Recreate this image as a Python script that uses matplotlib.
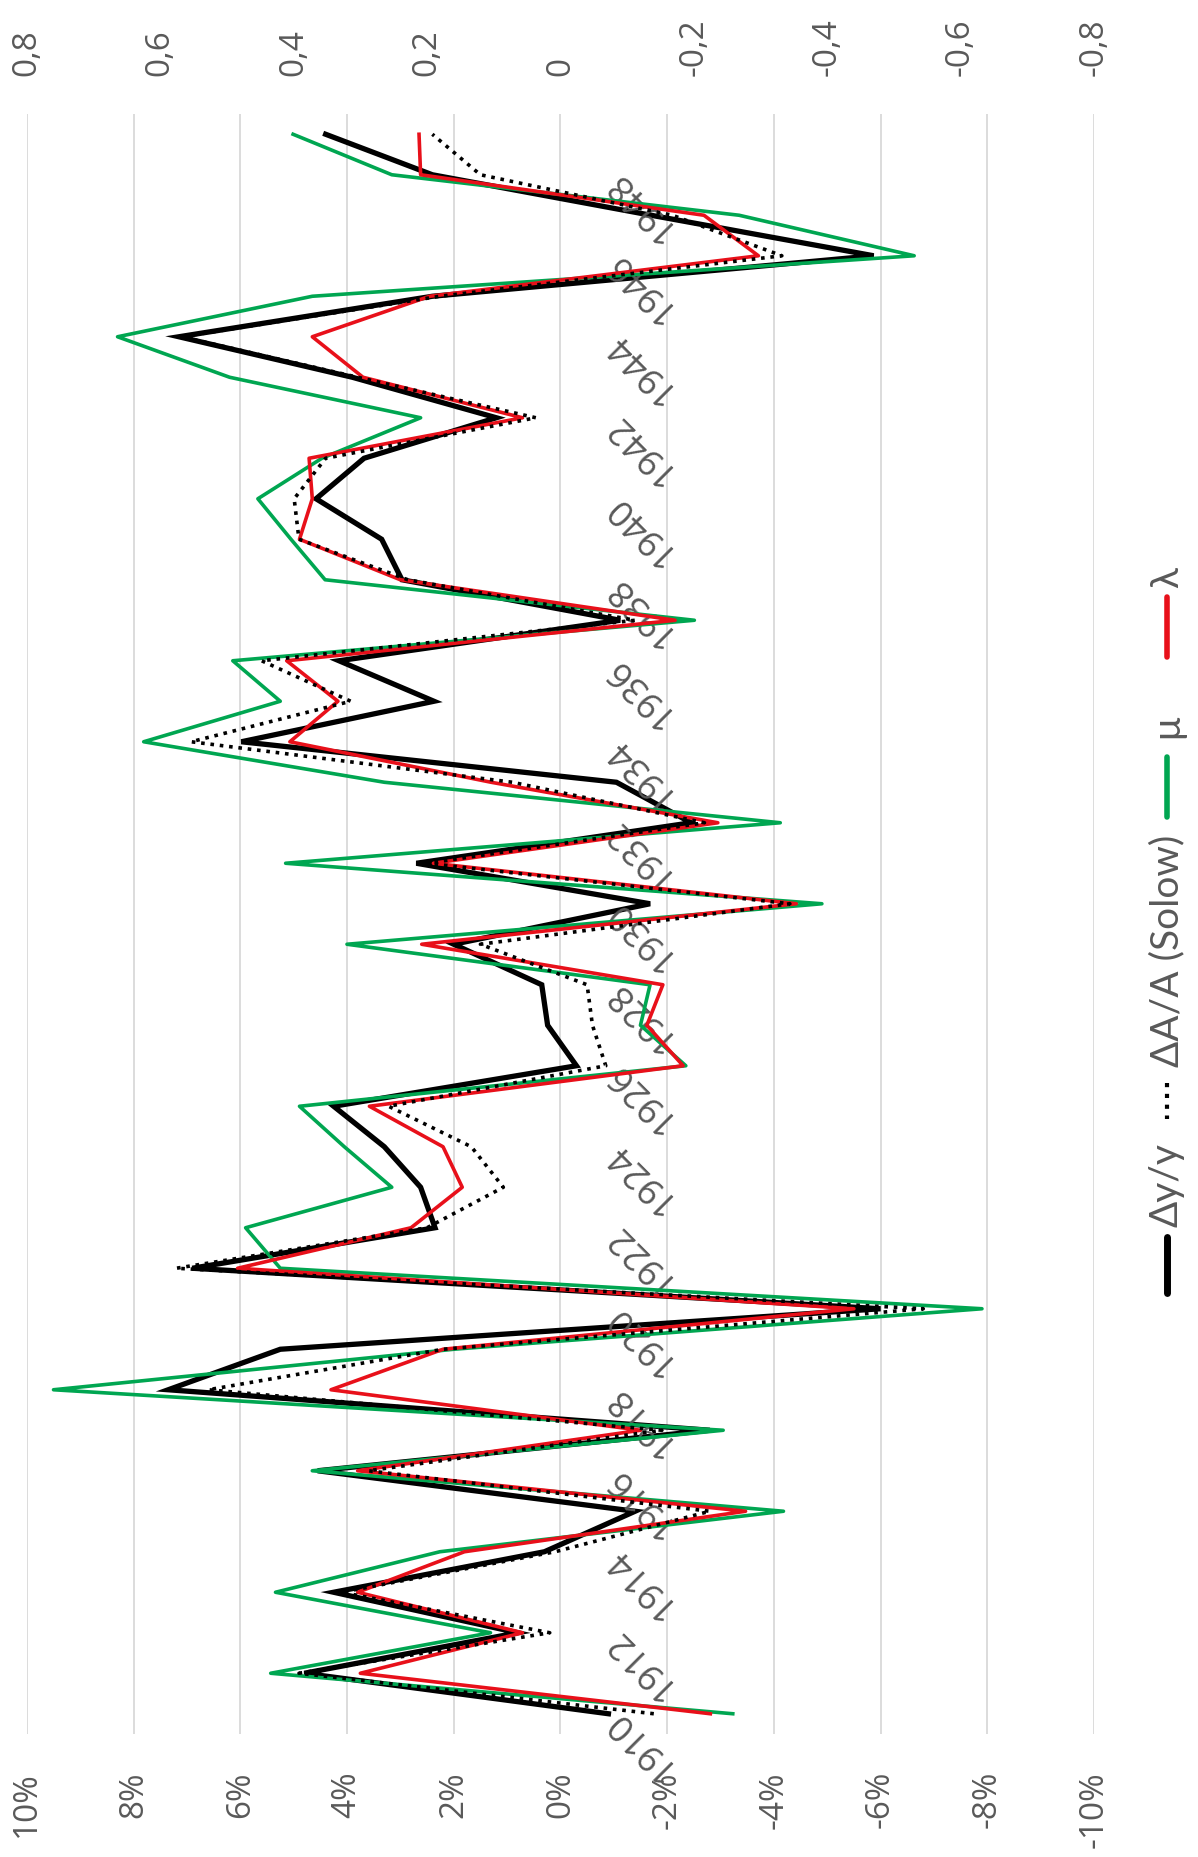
import matplotlib
matplotlib.use("Agg")
import matplotlib.pyplot as plt
from matplotlib.lines import Line2D

years = list(range(1910, 1950))

dy_y = [-0.9, 4.8, 0.8, 4.25, 0.3, -1.4, 4.55, -2.8, 7.35, 5.25,
        -6.0, 6.9, 2.35, 2.62, 3.3, 4.25, -0.3, 0.24, 0.35, 2.0,
        -1.68, 2.7, -2.45, -1.05, 5.98, 2.37, 4.15, -1.12, 2.97, 3.35,
        4.58, 3.68, 1.2, 3.9, 7.15, 2.4, -5.87, -1.7, 2.4, 4.4]

dA_A = [-1.75, 4.9, 0.2, 4.1, 0.1, -2.8, 3.6, -1.9, 6.6, 2.2,
        -6.8, 7.2, 2.5, 1.07, 1.67, 3.22, -0.85, -0.6, -0.5, 1.5,
        -4.3, 2.5, -2.7, 0.9, 6.92, 3.93, 5.6, -1.4, 2.86, 4.9,
        4.99, 4.4, 0.46, 3.8, 7.1, 2.26, -4.15, -2.1, 1.5, 2.4]

mu = [-3.23, 5.43, 1.31, 5.34, 2.26, -4.18, 4.65, -3.05, 9.5, 2.0,
      -7.9, 5.25, 5.9, 3.16, 4.05, 4.89, -2.35, -1.5, -1.68, 4.0,
      -4.9, 5.15, -4.12, 3.3, 7.81, 5.25, 6.14, -2.51, 4.41, 5.05,
      5.67, 4.47, 2.62, 6.2, 8.3, 4.65, -6.63, -3.35, 3.16, 5.01]

lam = [-2.81, 3.75, 0.71, 3.8, 1.8, -3.47, 3.8, -1.5, 4.3, 2.2,
       -5.5, 6.05, 2.8, 1.84, 2.2, 3.58, -2.3, -1.62, -1.92, 2.6,
       -4.42, 2.38, -2.95, 1.3, 5.07, 4.17, 5.13, -2.15, 3.0, 4.89,
       4.65, 4.71, 0.71, 3.7, 4.65, 2.45, -3.71, -2.69, 2.62, 2.65]

pct_ticks = list(range(-10, 11, 2))
sec_ticks = [-0.8, -0.6, -0.4, -0.2, 0, 0.2, 0.4, 0.6, 0.8]
year_labels = list(range(1910, 1950, 2))
legend_labels = ["\u0394y/y", "\u0394A/A (Solow)", "\u03bc", "\u03bb"]

GRAY = "#595959"
GREEN = "#00a651"
RED = "#e8101a"
FONT = ["Open Sans", "DejaVu Sans"]

fig = plt.figure(figsize=(11.98, 18.58), dpi=100)
ax = fig.add_axes([0.0224, 0.0662, 0.8908, 0.8719])

# chart is drawn rotated: value on x (reversed), year on y
ax.plot(dy_y, years, color="black", lw=3.8, zorder=3, solid_joinstyle="miter")
ax.plot(mu, years, color=GREEN, lw=2.6, zorder=4)
ax.plot(lam, years, color=RED, lw=2.6, zorder=5)
ax.plot(dA_A, years, color="black", lw=2.6, ls=(0, (1, 1.6)), zorder=6)

ax.set_xlim(10, -10)
ax.set_ylim(1909.5, 1949.5)
ax.set_xticks(pct_ticks)
ax.set_xticklabels([f"{t}%" for t in pct_ticks], rotation=90,
                   fontsize=24, color=GRAY, family=FONT)
ax.tick_params(axis="x", length=0, pad=26)
ax.set_yticks([])
ax.grid(axis="x", color="#d9d9d9", lw=1.3)
ax.set_axisbelow(True)
for s in ax.spines.values():
    s.set_visible(False)

sec = ax.secondary_xaxis("top", functions=(lambda v: v / 12.5, lambda v: v * 12.5))
sec.set_xticks(sec_ticks)
sec.set_xticklabels([("%g" % t).replace(".", ",") for t in sec_ticks],
                    rotation=90, fontsize=24, color=GRAY, family=FONT)
sec.tick_params(axis="x", length=0, pad=28)
for s in sec.spines.values():
    s.set_visible(False)

# category labels next to the zero line
for yr in year_labels:
    ax.annotate(str(yr), xy=(0, yr), xytext=(36, 0), textcoords="offset points",
                rotation=135, rotation_mode="anchor", ha="right", va="center",
                fontsize=26, color=GRAY, family=FONT)

# legend, rotated
lx = 0.974
def fy(px):
    return 1 - px / 1858

handles = [
    dict(color="black", lw=5, ls="-", y=(1238, 1294)),
    dict(color="black", lw=3, ls=(0, (1, 1.6)), y=(1084, 1120)),
    dict(color=GREEN, lw=4, ls="-", y=(758, 818)),
    dict(color=RED, lw=4, ls="-", y=(598, 658)),
]
text_y = [1185, 951, 726, 578]
for h, label, ty in zip(handles, legend_labels, text_y):
    fig.add_artist(Line2D([lx, lx], [fy(h["y"][0]), fy(h["y"][1])],
                          color=h["color"], lw=h["lw"], ls=h["ls"],
                          solid_capstyle="round"))
    fig.text(lx, fy(ty), label, rotation=90, ha="center", va="center",
             fontsize=28, color=GRAY, family=["Lato", "DejaVu Sans"])

fig.savefig("out.png", dpi=100, facecolor="white")
